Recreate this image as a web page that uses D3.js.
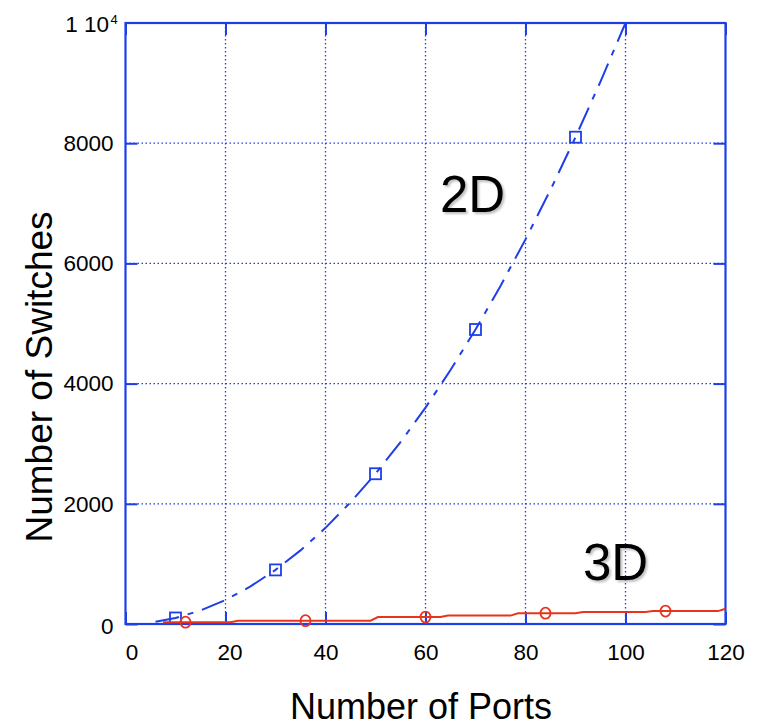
<!DOCTYPE html>
<html>
<head>
<meta charset="utf-8">
<script src="https://cdn.jsdelivr.net/npm/d3@7"></script>
<style>
  html, body { margin: 0; padding: 0; background: #fff; }
  svg { display: block; font-family: "Liberation Sans", Arial, sans-serif; }
</style>
</head>
<body>
<svg id="chart" width="766" height="726"></svg>
<script>
// Switch count versus port count for 2D and 3D topologies
const ports2D    = [6, 10, 15, 20, 25, 30, 35, 40, 45, 50, 55, 60, 65, 70, 75, 80, 85, 90, 95, 100];
const switches2D = [36, 100, 225, 400, 625, 900, 1225, 1600, 2025, 2500, 3025, 3600, 4225, 4900, 5625, 6400, 7225, 8100, 9025, 10000];
const markPorts2D    = [10, 30, 50, 70, 90];
const markSwitches2D = [100, 900, 2500, 4900, 8100];

const ports3D    = [7.5, 21, 22.5, 49, 50.5, 63, 64.5, 77, 78.5, 90, 91.5, 104, 105.5, 118.5, 120];
const switches3D = [30, 30, 55, 55, 115, 115, 140, 140, 180, 180, 200, 200, 215, 215, 255];
const markPorts3D    = [12, 36, 60, 84, 108];
const markSwitches3D = [30, 55, 115, 180, 215];

const xTicks = [0, 20, 40, 60, 80, 100, 120];
const yTicks = [0, 2000, 4000, 6000, 8000];

const BLUE = "#1f3fe6";
const RED = "#e8341c";

const svg = d3.select("#chart");
const plotL = 125.5, plotR = 725.5, plotT = 23, plotB = 624;

const x = d3.scaleLinear().domain([0, 120]).range([plotL, plotR]);
const y = d3.scaleLinear().domain([0, 10000]).range([plotB, plotT]);

// soft shadow used by the in-plot labels
const defs = svg.append("defs");
const f = defs.append("filter").attr("id", "shadow").attr("x", "-20%").attr("y", "-20%").attr("width", "150%").attr("height", "150%");
f.append("feDropShadow").attr("dx", 2).attr("dy", 2).attr("stdDeviation", 1.2)
  .attr("flood-color", "#000").attr("flood-opacity", 0.25);

// dotted grid
const grid = svg.append("g");
grid.selectAll("line.gx").data(xTicks.filter(d => d > 0 && d < 120)).join("line")
  .attr("class", "gx")
  .attr("x1", d => x(d)).attr("x2", d => x(d)).attr("y1", plotT).attr("y2", plotB)
  .attr("stroke", BLUE).attr("stroke-width", 1.3).attr("stroke-dasharray", "1.5,2.5");
grid.selectAll("line.gy").data(yTicks.filter(d => d > 0)).join("line")
  .attr("class", "gy")
  .attr("x1", plotL).attr("x2", plotR).attr("y1", d => y(d)).attr("y2", d => y(d))
  .attr("stroke", BLUE).attr("stroke-width", 1.3).attr("stroke-dasharray", "1.5,2.5");

// axes with inward ticks on all four sides
const tickLen = 12;
const axB = svg.append("g").attr("transform", `translate(0,${plotB})`)
  .call(d3.axisBottom(x).tickValues(xTicks).tickSize(-tickLen).tickSizeOuter(0).tickPadding(20));
const axT = svg.append("g").attr("transform", `translate(0,${plotT})`)
  .call(d3.axisTop(x).tickValues(xTicks).tickSize(-tickLen).tickSizeOuter(0).tickFormat(""));
const axL = svg.append("g").attr("transform", `translate(${plotL},0)`)
  .call(d3.axisLeft(y).tickValues(yTicks).tickSize(-tickLen).tickSizeOuter(0).tickPadding(12).tickFormat(d3.format("d")));
const axR = svg.append("g").attr("transform", `translate(${plotR},0)`)
  .call(d3.axisRight(y).tickValues(yTicks).tickSize(-tickLen).tickSizeOuter(0).tickFormat(""));

[axB, axT, axL, axR].forEach(a => {
  a.select(".domain").remove();
  a.selectAll(".tick line").attr("stroke", BLUE).attr("stroke-width", 2);
  a.selectAll("text").attr("fill", "#000").attr("font-size", 22.5)
    .attr("font-family", "'Liberation Sans', Arial, sans-serif");
});
axB.selectAll("text").attr("dy", "0.71em").attr("dx", d => d === 0 ? 6 : (d === 20 ? 4 : 0));
axL.selectAll("text").attr("dy", d => d === 0 ? "0.4em" : "0.32em");

// frame
svg.append("rect").attr("x", plotL).attr("y", plotT).attr("width", plotR - plotL).attr("height", plotB - plotT)
  .attr("fill", "none").attr("stroke", BLUE).attr("stroke-width", 2.2);

// exponent label at the top of the y axis
svg.append("text").attr("x", 109).attr("y", 32).attr("text-anchor", "end")
  .attr("font-size", 22.5).attr("fill", "#000").text("1 10");
svg.append("text").attr("x", 110.5).attr("y", 24).attr("font-size", 13).attr("fill", "#000").text("4");

// 2D series
const line = d3.line().x(d => x(d[0])).y(d => y(d[1]));
svg.append("path").datum(d3.zip(ports2D, switches2D))
  .attr("d", line).attr("fill", "none").attr("stroke", BLUE)
  .attr("stroke-width", 2).attr("stroke-dasharray", "24,9,6,9");
const sq = 11;
svg.append("g").selectAll("rect").data(d3.zip(markPorts2D, markSwitches2D)).join("rect")
  .attr("x", d => x(d[0]) - sq / 2).attr("y", d => y(d[1]) - sq / 2)
  .attr("width", sq).attr("height", sq)
  .attr("fill", "none").attr("stroke", BLUE).attr("stroke-width", 1.8);

// 3D series
svg.append("path").datum(d3.zip(ports3D, switches3D))
  .attr("d", line).attr("fill", "none").attr("stroke", RED).attr("stroke-width", 2);
svg.append("g").selectAll("ellipse").data(d3.zip(markPorts3D, markSwitches3D)).join("ellipse")
  .attr("cx", d => x(d[0])).attr("cy", d => y(d[1]))
  .attr("rx", 5).attr("ry", 5.5)
  .attr("fill", "none").attr("stroke", RED).attr("stroke-width", 1.8);

// in-plot series labels
svg.append("text").attr("x", 440).attr("y", 212).attr("font-size", 51).attr("fill", "#000")
  .attr("filter", "url(#shadow)").text("2D");
svg.append("text").attr("x", 583).attr("y", 580).attr("font-size", 51).attr("fill", "#000")
  .attr("filter", "url(#shadow)").text("3D");

// axis titles
svg.append("text").attr("x", 421).attr("y", 719).attr("text-anchor", "middle")
  .attr("font-size", 36).attr("fill", "#000").text("Number of Ports");
svg.append("text").attr("transform", "translate(52,377) rotate(-90)").attr("text-anchor", "middle")
  .attr("font-size", 37).attr("fill", "#000").text("Number of Switches");
</script>
</body>
</html>
